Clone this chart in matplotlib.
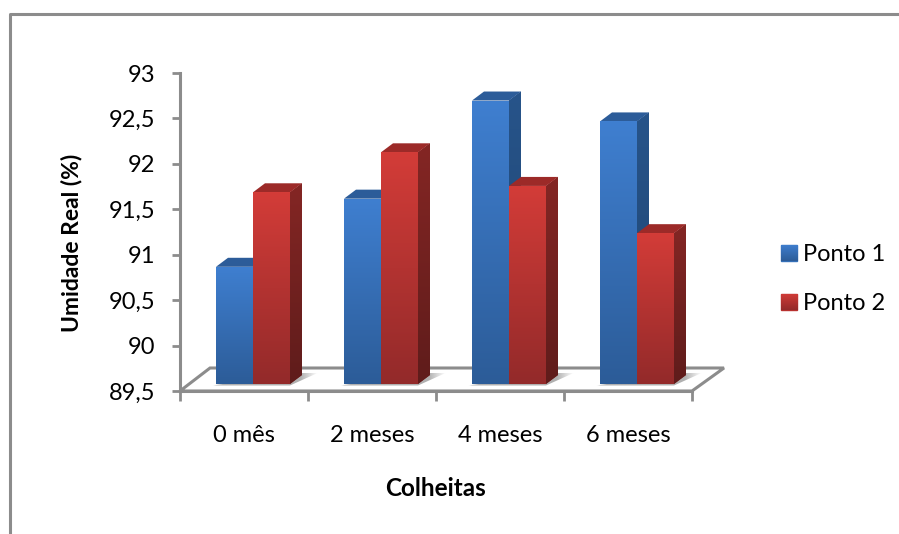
import numpy as np
import matplotlib
matplotlib.use('Agg')
import matplotlib.pyplot as plt
from matplotlib.colors import LinearSegmentedColormap
from matplotlib.lines import Line2D
from matplotlib.patches import Patch, Polygon

plt.rcParams['font.family'] = ['Lato', 'DejaVu Sans']

# valores
colheitas = ['0 mês', '2 meses', '4 meses', '6 meses']
ponto1 = [90.79, 91.54, 92.62, 92.39]
ponto2 = [91.61, 92.05, 91.68, 91.16]
yticks = [89.5, 90, 90.5, 91, 91.5, 92, 92.5, 93]

W, H = 899, 534
GRAY = '#8c8c8c'

fig = plt.figure(figsize=(W / 100, H / 100), dpi=100)
ax = fig.add_axes([180 / W, 1 - 391 / H, 512 / W, 318 / H])
ax.set_xlim(0, 4)
ax.set_ylim(89.5, 93)

# pixels -> unidades dos eixos
px = 4 / 512
py = 3.5 / 318
bar_w = 37 * px
off_x = 9 * px   # deslocamento da base das barras
off_y = 7 * py
dep_x = 12 * px  # profundidade 3D
dep_y = 9 * py

def gradient(colors, extent, clip, z, horizontal=False):
    cmap = LinearSegmentedColormap.from_list('g', colors)
    g = np.linspace(0, 1, 128).reshape(-1, 1)
    if horizontal:
        g = g.T
    im = ax.imshow(g, cmap=cmap, extent=extent, origin='upper', aspect='auto',
                   zorder=z, interpolation='bilinear')
    im.set_clip_box(fig.bbox)
    im.set_clip_path(clip)

# piso
floor = Polygon([(0, 89.5), (4, 89.5), (4 + 32 * px, 89.5 + 23 * py), (30 * px, 89.5 + 23 * py)],
                closed=True, fc='white', ec=GRAY, lw=2.2, clip_on=False, zorder=1)
ax.add_patch(floor)

series = [
    (ponto1, -bar_w, ['#3f7fd0', '#2c5c98'], ['#2c5c99', '#2c5c99'], ['#27548a', '#1f4470']),
    (ponto2, 0, ['#d33c38', '#932a2a'], ['#9c2a28', '#9c2a28'], ['#842624', '#5f1c1b']),
]

z = 3
base = 89.5 + off_y
for i in range(len(colheitas)):
    # sombra no piso
    sx = i + 0.5 + off_x + bar_w
    sl = sx - 2 * bar_w - 4 * px
    sr = sx + 2.3 * dep_x
    sh = Polygon([(sl, base - 1.5 * py), (sx, base - 1.5 * py), (sr, base + dep_y + 2 * py),
                  (sx + dep_x, base + dep_y + 2 * py)],
                 closed=True, fc='none', ec='none')
    ax.add_patch(sh)
    gradient([(0, '#ffffff'), (0.04, '#b0b0b0'), (0.84, '#b0b0b0'), (1, '#ffffff')],
             (sl, sr, base - 1.5 * py, base + dep_y + 2 * py), sh, 2, horizontal=True)

    for values, shift, front, top, side in series:
        v = values[i]
        x0 = i + 0.5 + off_x + shift
        x1 = x0 + bar_w
        y1 = v + off_y
        side_p = Polygon([(x1, base), (x1 + dep_x, base + dep_y), (x1 + dep_x, y1 + dep_y), (x1, y1)],
                         closed=True, fc=side[0], ec='none', zorder=z)
        ax.add_patch(side_p)
        gradient(side, (x1, x1 + dep_x, base, y1 + dep_y), side_p, z)
        top_p = Polygon([(x0, y1), (x0 + dep_x, y1 + dep_y), (x1 + dep_x, y1 + dep_y), (x1, y1)],
                        closed=True, fc=top[0], ec='none', zorder=z)
        ax.add_patch(top_p)
        b = ax.bar(x0, v - 89.5, bar_w, bottom=base, align='edge', color=front[0], zorder=z + 1)[0]
        gradient(front, (x0, x1, base, y1), b, z + 1)
        z += 2

# eixos
for s in ['top', 'right']:
    ax.spines[s].set_visible(False)
for s in ['left', 'bottom']:
    ax.spines[s].set_color(GRAY)
    ax.spines[s].set_linewidth(2.2)
ax.set_yticks(yticks)
ax.set_yticklabels([str(t).replace('.', ',').replace(',0', '') for t in yticks], fontsize=17)
ax.set_xticks(range(5))
ax.set_xticklabels([])
ax.tick_params(axis='y', length=6, width=2, color=GRAY, pad=12)
ax.tick_params(axis='x', length=7, width=2, color=GRAY)
for i, c in enumerate(colheitas):
    ax.text(i + 0.5, 89.5 - 45 * py, c, ha='center', va='center', fontsize=17, color='black')

fig.text(436 / W, 1 - 488 / H, 'Colheitas', ha='center', va='center', fontsize=17.5, fontweight='bold')
fig.text(72 / W, 1 - 243 / H, 'Umidade Real (%)', ha='center', va='center', rotation=90,
         fontsize=16.5, fontweight='bold')

# legenda
handles = [Patch(color='#3470b8', label='Ponto 1'), Patch(color='#b8312f', label='Ponto 2')]
leg = ax.legend(handles=handles, loc='center left', bbox_to_anchor=(781 / W, 1 - 279 / H),
                bbox_transform=fig.transFigure, frameon=False, fontsize=17,
                handlelength=0.68, handleheight=0.68, handletextpad=0.25, labelspacing=1.19,
                borderpad=0, borderaxespad=0)

# gradiente nos quadrados da legenda
fig.canvas.draw()
for p, (_, _, front, _, _) in zip(leg.get_patches(), series):
    e = p.get_window_extent().transformed(ax.transData.inverted())
    gradient(front, (e.x0, e.x1, e.y0, e.y1), p, 20)

ax.set_xlim(0, 4)
ax.set_ylim(89.5, 93)

# moldura
fig.add_artist(Line2D([10 / W, 10 / W, 1], [0, 1 - 13.5 / H, 1 - 13.5 / H], color=GRAY, lw=2.2))

fig.savefig('out.png', dpi=100)
